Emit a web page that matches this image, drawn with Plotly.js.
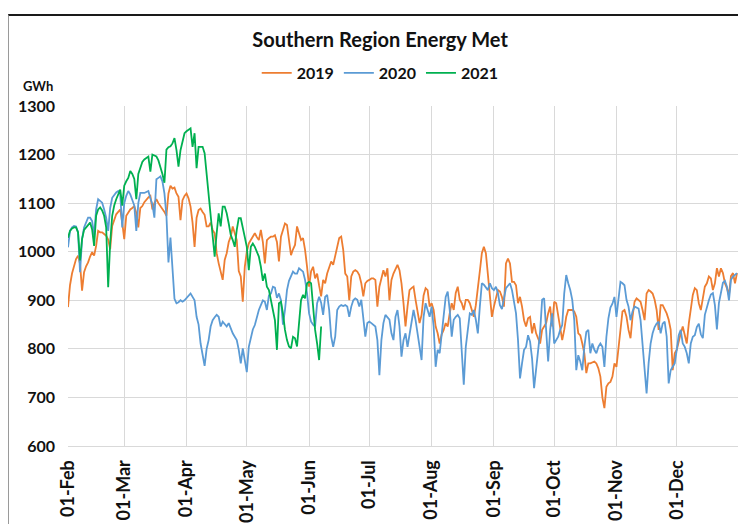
<!DOCTYPE html>
<html><head><meta charset="utf-8">
<script src="https://cdn.plot.ly/plotly-3.0.1.min.js"></script>
<style>
html,body{margin:0;padding:0;background:#fff;}
#wrap{position:relative;width:738px;height:524px;overflow:hidden;}
#chart{width:738px;height:524px;}
#frame{position:absolute;left:8px;top:14px;width:760px;height:540px;border-top:2px solid #1a1a1a;border-left:1px solid #9a9a9a;pointer-events:none;}
</style></head><body>
<div id="wrap"><div id="chart"></div><div id="frame"></div></div>
<script>
// Month tick positions (day index from 01-Feb) and labels
const monthStartDays = [0, 28, 59, 89, 120, 150, 181, 212, 242, 273, 303];
const monthLabels = ['01-Feb','01-Mar','01-Apr','01-May','01-Jun','01-Jul','01-Aug','01-Sep','01-Oct','01-Nov','01-Dec'];
const yTicks = [600, 700, 800, 900, 1000, 1100, 1200, 1300];
const seriesNames = ['2019', '2020', '2021'];

// Daily energy met (GWh), from 01-Feb
const energy2019 = [
 886, 931, 955, 968, 985, 992, 975, 920, 958, 970,
 978, 990, 999, 992,1012,1043,1040,1040,1036,1033,
1025,1005,1053,1065,1077,1082,1087,1060,1026,1074,
1080,1087,1090,1094,1080,1050,1090,1094,1102,1108,
1112,1115,1087,1100,1108,1100,1094,1090,1082,1074,
1120,1136,1130,1132,1120,1113,1065,1106,1115,1120,
1110,1093,1060,1010,1070,1086,1089,1082,1076,1052,
1052,1060,1045,1038, 997, 976, 960, 942, 983, 997,
1020,1031,1052,1040,1024, 960, 949, 897, 969,1000,
1017,1024,1030,1038,1030,1024,1045,1020, 976,1024,
1028,1031,1031,1034,1020, 980,1031,1045,1058,1055,
1020, 993,1005,1014,1052,1038,1024,1028,1004, 969,
 928, 960, 969, 945, 955, 930, 908, 942, 935, 955,
 966, 980, 973, 990,1010,1028,1031,1004, 955, 949,
 900, 949, 959, 962, 959, 952, 935, 908, 935, 940,
 942, 945, 945, 942, 887, 928, 945, 962, 949, 966,
 900, 942, 955, 966, 973, 962, 935, 894, 846, 887,
 921, 925, 928, 901, 873, 853, 870, 910, 925, 921,
 887, 894, 880, 846, 832, 811, 830, 839, 853, 846,
 873, 894, 880, 915, 928, 901, 894, 880, 901, 901,
 894, 880, 866, 890, 920, 960, 997,1010, 997, 949,
 901, 866, 887, 907, 921, 918, 907, 887, 976, 986,
 976, 938, 938, 931, 894, 907, 887, 859, 846, 863,
 866, 832, 853, 832, 822, 811, 839, 846, 853, 873,
 887, 846, 897, 894, 866, 839, 818, 839, 866, 880,
 880, 880, 877, 866, 832, 828, 811, 791, 750, 770,
 770, 772, 774, 770, 760, 743, 700, 678, 722, 729,
 732, 743, 770, 763, 804, 846, 877, 880, 866, 839,
 822, 866, 897, 904, 900, 897, 880, 859, 914, 921,
 918, 914, 901, 880, 839, 890, 890, 883, 873, 860,
 839, 756, 791, 798, 818, 832, 846, 828, 811, 852,
 883, 911, 925, 921, 894, 880, 904, 928, 935, 949,
 945, 921, 935, 966, 949, 966, 956, 935, 925, 910,
 950, 956, 935, 956
];
const energy2020 = [
1009,1043,1050,1053,1052,1040, 958,1026,1050,1060,
1070,1070,1063,1033,1087,1108,1105,1101,1087,1070,
1043,1090,1111,1118,1122,1125,1118,1050,1100,1115,
1125,1118,1108,1095,1043,1100,1121,1121,1121,1123,
1125,1110,1098,1070,1149,1152,1155,1145,1120,1074,
 978,1029, 960, 903, 894, 896, 900, 897, 900, 904,
 910, 914, 907, 900, 866, 850, 811, 784, 765, 800,
 818, 846, 859, 865, 870, 866, 846, 856, 850, 846,
 853, 840, 832, 825, 818, 798, 770, 801, 775, 752,
 804, 825, 840, 849, 866, 880, 890, 900, 897, 880,
 910, 914, 928, 926, 905, 914, 900, 850, 880, 921,
 940, 949, 959, 955, 955, 966, 962, 959, 942, 914,
 873, 856, 850, 846, 894, 907, 895, 870, 907, 911,
 880, 825, 804, 825, 880, 887, 890, 888, 890, 887,
 866, 887, 900, 904, 901, 887, 901, 863, 825, 853,
 856, 853, 850, 846, 818, 746, 818, 853, 870, 865,
 860, 832, 818, 866, 880, 846, 784, 818, 832, 804,
 832, 860, 880, 859, 832, 811, 777, 866, 894, 880,
 866, 887, 846, 763, 798, 791, 830, 866, 907, 918,
 880, 825, 860, 866, 870, 863, 804, 726, 804, 846,
 873, 870, 880, 860, 832, 887, 935, 932, 925, 921,
 935, 925, 921, 928, 915, 890, 882, 907, 925, 930,
 935, 921, 894, 873, 818, 739, 770, 798, 804, 828,
 815, 780, 719, 763, 804, 835, 901, 904, 839, 774,
 839, 873, 811, 818, 825, 839, 849, 914, 952, 935,
 921, 901, 859, 756, 787, 774, 756, 804, 835, 839,
 791, 811, 798, 791, 804, 811, 804, 763, 825, 863,
 885, 893, 907, 866, 905, 938, 935, 931, 901, 887,
 859, 877, 887, 885, 883, 859, 804, 743, 708, 770,
 811, 832, 845, 852, 856, 832, 852, 856, 825, 729,
 756, 763, 770, 798, 828, 839, 811, 804, 791, 770,
 811, 825, 828, 845, 852, 830, 822, 870, 887, 900,
 912, 915, 890, 840, 894, 918, 936, 940, 928, 900,
 942, 949, 953, 956
];
const energy2021 = [
1029,1043,1048,1050,1050,1040, 982,1026,1045,1050,
1053,1060,1046,1012,1074,1087,1091,1085,1074,1050,
 927,1019,1074,1095,1108,1118,1128,1095,1136,1145,
1152,1166,1160,1150,1108,1160,1172,1185,1190,1193,
1196,1165,1200,1198,1196,1188,1176,1160,1142,1210,
1215,1217,1223,1234,1209,1175,1209,1230,1244,1248,
1251,1254,1216,1244,1172,1216,1216,1216,1203,1161,
1120,1086,1038, 990,1038,1079,1052,1093,1093,1079,
1058,1035,1024,1010,1045,1069,1069,1052,1030,1010,
 962,1010,1017,1010,1000, 990, 969, 940, 955, 928,
 921, 900, 880, 859, 798, 894, 897, 873, 839, 818,
 805, 801, 825, 822, 805, 853, 900, 911, 904, 935,
 938, 935, 880, 839, 811, 777, 846
];

const colors = ['#ED7D31', '#5B9BD5', '#00B050'];
const allSeries = [energy2019, energy2020, energy2021];

const traces = allSeries.map((vals, k) => ({
  type: 'scatter', mode: 'lines', name: seriesNames[k],
  x: vals.map((_, i) => i), y: vals,
  line: {color: colors[k], width: 1.8}
}));

const FONT = 'Lato, "Open Sans", sans-serif';
const layout = {
  width: 738, height: 524,
  margin: {l: 68, r: 0, t: 106, b: 78},
  paper_bgcolor: '#fff', plot_bgcolor: '#fff',
  font: {family: FONT, color: '#111'},
  title: {text: '<b>Southern Region Energy Met</b>', font: {family: FONT, size: 20, color: '#111'},
          x: 0.515, xanchor: 'center', xref: 'container', y: 1 - 40/524, yanchor: 'middle', yref: 'container'},
  showlegend: true,
  legend: {orientation: 'h', x: 0.466, xanchor: 'center', y: 1.097, yanchor: 'middle',
           font: {family: FONT, size: 16, color: '#111', weight: 'bold'}, itemwidth: 30, tracegroupgap: 0},
  xaxis: {range: [0, 333.5], tickmode: 'array', tickvals: monthStartDays, ticktext: monthLabels,
          tickangle: -90, tickfont: {family: FONT, size: 18, color: '#111', weight: 'bold'},
          showgrid: true, gridcolor: '#d9d9d9', gridwidth: 1, zeroline: false,
          showline: true, linecolor: '#d9d9d9', linewidth: 1, ticks: '', ticklabelstandoff: 6, fixedrange: true},
  yaxis: {range: [600, 1300], tickmode: 'array', tickvals: yTicks, ticktext: yTicks.map(String),
          tickfont: {family: FONT, size: 16, color: '#111', weight: 'bold'},
          showgrid: true, gridcolor: '#d9d9d9', gridwidth: 1, zeroline: false,
          showline: false, ticks: '', ticklabelstandoff: 12, fixedrange: true},
  annotations: [{text: '<b>GWh</b>', xref: 'paper', yref: 'paper', x: -0.045, y: 1.059,
                 xanchor: 'center', yanchor: 'middle', showarrow: false,
                 font: {family: FONT, size: 13, color: '#111'}}]
};

Plotly.newPlot('chart', traces, layout, {staticPlot: true, displayModeBar: false});
</script>
</body></html>
